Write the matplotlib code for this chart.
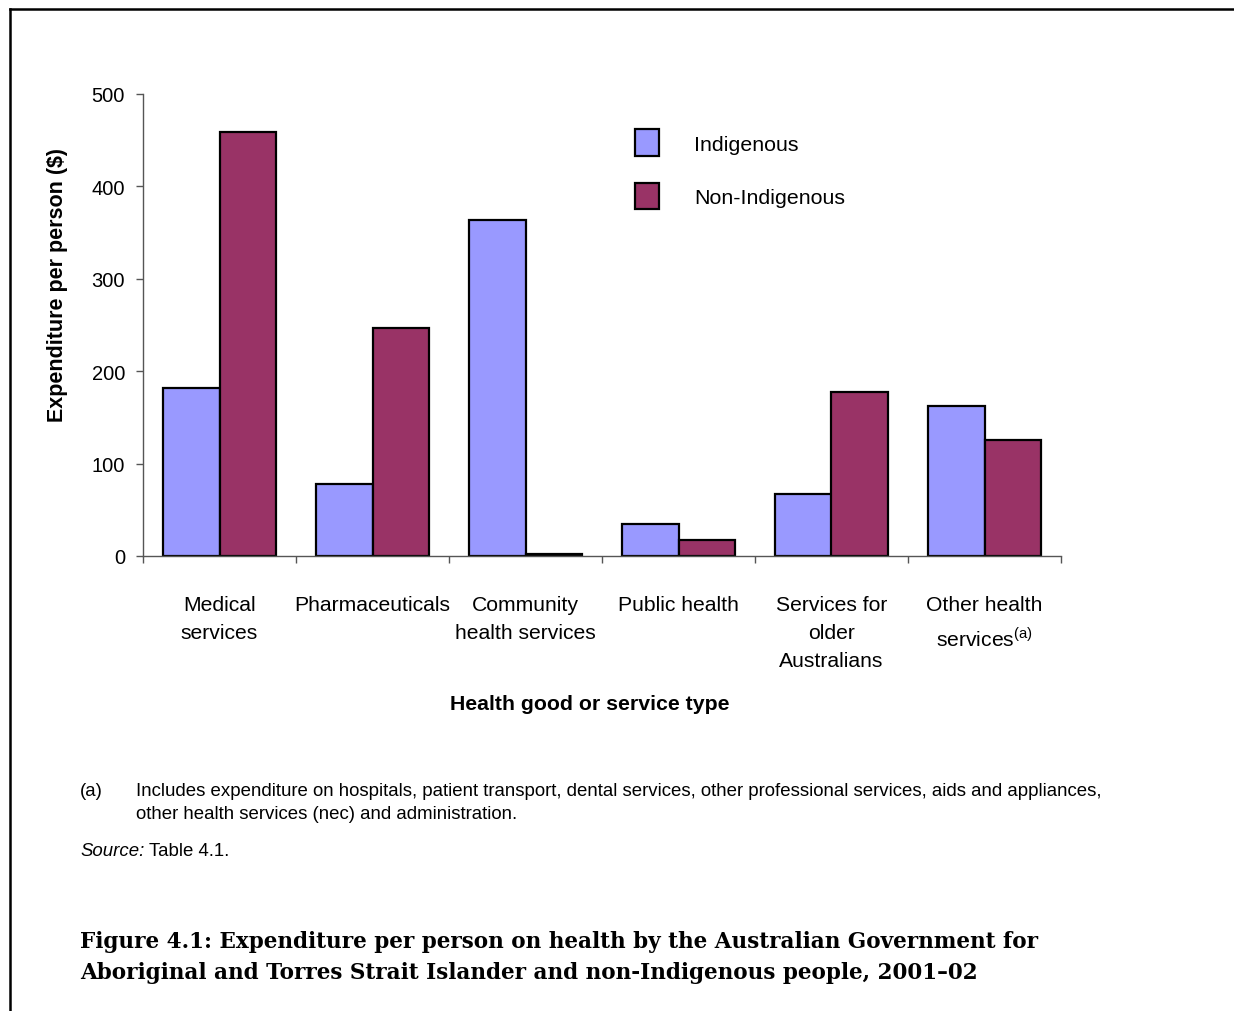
import numpy as np
import matplotlib
matplotlib.use("Agg")
import matplotlib.pyplot as plt
from matplotlib.lines import Line2D
from matplotlib.patches import Patch

plt.rcParams['font.family'] = ['Liberation Sans', 'DejaVu Sans']
plt.rcParams['mathtext.fontset'] = 'custom'
plt.rcParams['mathtext.rm'] = 'Liberation Sans'

categories = ["Medical\nservices", "Pharmaceuticals", "Community\nhealth services",
              "Public health", "Services for\nolder\nAustralians",
              "Other health\nservices$^{\\mathrm{(a)}}$"]
indigenous = [182, 78, 364, 35, 67, 162]
non_indigenous = [459, 247, 2, 17, 178, 126]
series_names = ["Indigenous", "Non-Indigenous"]
colors = ["#9999ff", "#993366"]

fig = plt.figure(figsize=(12.34, 10.12), dpi=100)
ax = fig.add_axes([143 / 1234, 1 - 557 / 1012, (1061 - 143) / 1234, (557 - 95) / 1012])

x = np.arange(len(categories))
w = 0.37
ax.bar(x - w / 2, indigenous, w, color=colors[0], edgecolor="black", linewidth=1.6)
ax.bar(x + w / 2, non_indigenous, w, color=colors[1], edgecolor="black", linewidth=1.6)

ax.set_xlim(-0.5, len(categories) - 0.5)
ax.set_ylim(0, 500)
ax.set_yticks([0, 100, 200, 300, 400, 500])
ax.set_xticks(np.arange(len(categories) + 1) - 0.5)
ax.set_xticklabels([])
ax.tick_params(axis="both", direction="out", length=5, color="#555555", width=1, labelsize=14.5)
ax.tick_params(axis="y", pad=8)
for s in ["top", "right"]:
    ax.spines[s].set_visible(False)
for s in ["left", "bottom"]:
    ax.spines[s].set_color("#555555")
    ax.spines[s].set_linewidth(1)

# category labels under the axis
for i, lab in enumerate(categories):
    ax.text(i, -42, lab, ha="center", va="top", fontsize=15.2, linespacing=1.6)

fig.text(590 / 1234, 1 - 705 / 1012, "Health good or service type", ha="center", va="center",
         fontsize=15.3, fontweight="bold")
fig.text(57 / 1234, 1 - 285 / 1012, r"Expenditure per person (\$)", ha="center", va="center",
         rotation=90, fontsize=15.5, fontweight="bold")

handles = [Patch(facecolor=c, edgecolor="black", linewidth=1.6) for c in colors]
ax.legend(handles, series_names, loc="upper left", bbox_to_anchor=(0.515, 0.965), frameon=False,
          fontsize=15.4, handlelength=1.1, handleheight=1.5, handletextpad=1.65, labelspacing=1.3)

# footnotes
fs = 13.4
fig.text(80 / 1234, 1 - 791 / 1012, "(a)", ha="left", va="center", fontsize=fs)
fig.text(136 / 1234, 1 - 791 / 1012,
         "Includes expenditure on hospitals, patient transport, dental services, other professional services, aids and appliances,",
         ha="left", va="center", fontsize=fs)
fig.text(136 / 1234, 1 - 815 / 1012, "other health services (nec) and administration.",
         ha="left", va="center", fontsize=fs)
fig.text(80 / 1234, 1 - 852 / 1012, "Source:", ha="left", va="center", fontsize=fs, style="italic")
fig.text(149 / 1234, 1 - 852 / 1012, "Table 4.1.", ha="left", va="center", fontsize=fs)

# figure caption
fig.text(80 / 1234, 1 - 942 / 1012,
         "Figure 4.1: Expenditure per person on health by the Australian Government for",
         ha="left", va="center", fontsize=15.5, fontweight="bold", family="DejaVu Serif")
fig.text(80 / 1234, 1 - 973 / 1012,
         "Aboriginal and Torres Strait Islander and non-Indigenous people, 2001\u201302",
         ha="left", va="center", fontsize=15.5, fontweight="bold", family="DejaVu Serif")

# page frame (top and left edges)
fig.add_artist(Line2D([10 / 1234, 1], [1 - 10 / 1012, 1 - 10 / 1012], color="black", linewidth=1.8))
fig.add_artist(Line2D([10 / 1234, 10 / 1234], [0, 1 - 10 / 1012], color="black", linewidth=1.8))

fig.savefig("out.png", dpi=100, facecolor="white")
